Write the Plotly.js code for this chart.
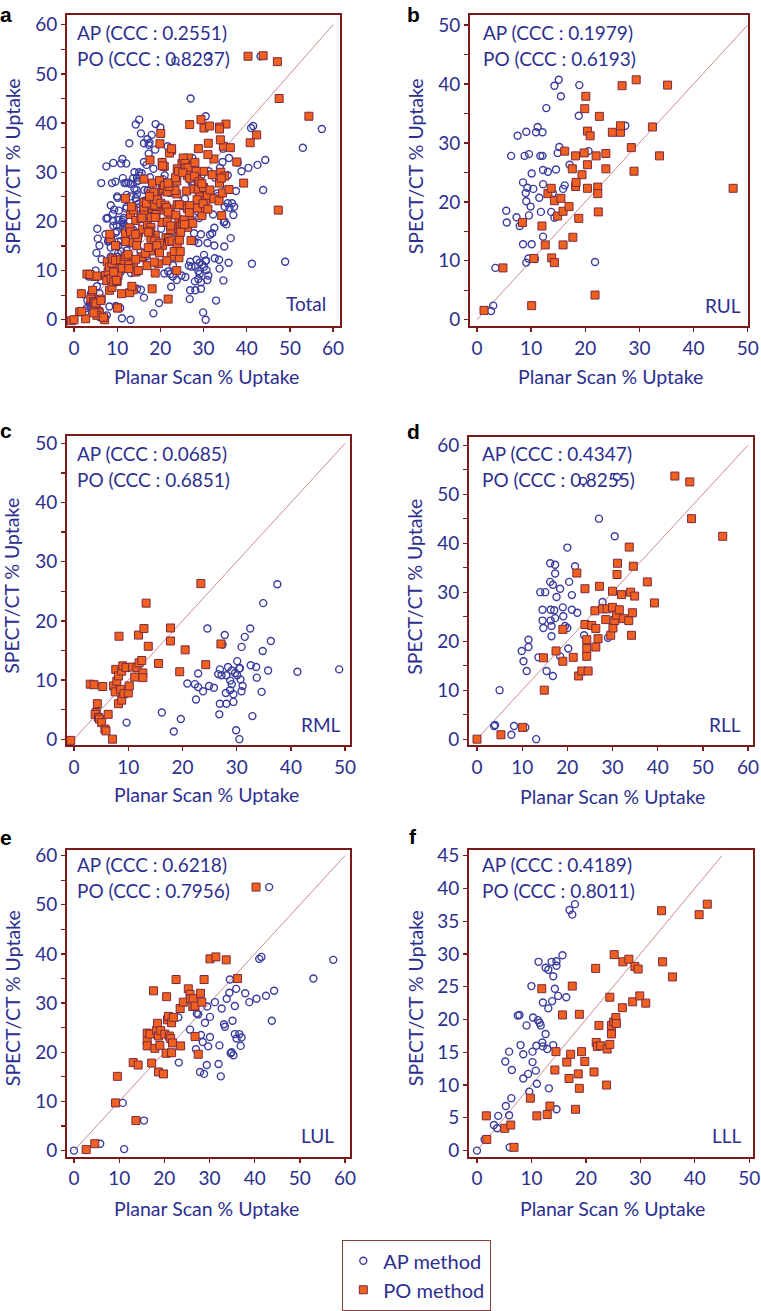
<!DOCTYPE html>
<html>
<head>
<meta charset="utf-8">
<script src="https://cdn.plot.ly/plotly-3.0.1.min.js"></script>
<style>
  html, body { margin: 0; padding: 0; background: #fff; }
  #chart { width: 761px; height: 1311px; }
</style>
</head>
<body>
<div id="chart"></div>
<script>
// RUL
const rulApX = [3.4, 3.0, 2.6, 5.4, 5.5, 7.3, 7.5, 6.3, 7.9, 8.5, 8.8, 9.1, 9.6, 9.0, 9.1, 9.3, 9.6, 9.9, 8.5, 10.1, 9.1, 9.5, 10.1, 10.4, 10.7, 10.9, 11.2, 11.5, 11.7, 12.1, 12.1, 12.2, 12.2, 11.8, 12.2, 13.1, 12.8, 13.7, 14.0, 14.3, 15.1, 15.5, 14.6, 14.9, 15.2, 14.3, 15.9, 16.2, 17.1, 18.9, 18.8, 20.6, 21.8, 27.4];
const rulApY = [8.8, 2.4, 1.5, 18.5, 16.5, 17.4, 31.2, 27.8, 15.9, 23.3, 27.8, 31.9, 28.1, 21.5, 20.1, 22.4, 17.7, 19.2, 12.8, 12.8, 9.7, 10.4, 24.8, 22.2, 10.3, 31.8, 32.7, 20.7, 27.8, 31.8, 27.8, 25.4, 23.0, 18.3, 14.1, 25.1, 35.9, 18.3, 21.5, 39.7, 40.7, 37.9, 25.5, 28.3, 29.3, 17.3, 22.2, 22.8, 26.3, 39.8, 34.6, 28.6, 9.8, 32.9];
const rulPoX = [1.3, 4.8, 8.4, 10.1, 10.5, 12.0, 12.6, 13.1, 13.7, 13.8, 14.3, 14.3, 14.9, 15.5, 15.9, 15.9, 16.2, 17.0, 17.6, 17.7, 18.2, 18.2, 18.3, 18.8, 19.4, 19.8, 19.9, 20.1, 20.4, 20.4, 20.4, 20.9, 21.8, 22.0, 22.3, 22.3, 22.4, 22.6, 23.8, 23.8, 25.0, 26.5, 26.5, 26.8, 28.5, 29.0, 29.4, 32.4, 33.7, 35.2, 47.3];
const rulPoY = [1.6, 8.8, 16.5, 2.4, 10.4, 15.9, 12.7, 21.4, 22.3, 10.5, 9.7, 20.2, 17.6, 20.6, 18.4, 12.7, 28.6, 19.2, 25.6, 14.0, 22.6, 27.8, 23.3, 17.2, 24.6, 28.3, 35.8, 37.9, 32.0, 26.3, 22.3, 31.2, 4.2, 27.8, 22.5, 21.4, 18.3, 34.5, 28.2, 25.6, 31.8, 31.8, 32.9, 39.7, 29.2, 25.2, 40.7, 32.7, 27.8, 39.8, 22.3];

// RML
const rmlApX = [9.7, 16.2, 18.4, 19.7, 20.9, 22.5, 22.3, 22.9, 22.9, 23.8, 24.6, 24.9, 25.8, 26.8, 26.9, 26.9, 27.4, 27.2, 27.8, 28.0, 28.1, 28.1, 28.4, 28.8, 28.8, 29.1, 29.1, 29.4, 29.4, 29.9, 30.1, 30.1, 30.5, 30.5, 30.7, 30.9, 30.9, 31.1, 30.6, 31.5, 32.5, 32.6, 32.9, 33.6, 33.7, 34.6, 34.8, 34.9, 35.8, 36.3, 37.5, 41.2, 48.9, 29.7, 26.6];
const rmlApY = [2.8, 4.5, 1.3, 3.4, 9.4, 6.7, 9.3, 8.8, 11.1, 8.1, 18.7, 9.0, 8.7, 4.2, 6.0, 11.8, 16.0, 10.8, 17.6, 7.8, 10.8, 6.0, 12.2, 9.9, 8.3, 9.3, 11.6, 6.3, 7.6, 1.5, 10.8, 13.2, 0.0, 12.0, 10.1, 8.1, 15.6, 9.0, 12.0, 17.3, 18.7, 12.5, 3.9, 12.2, 10.4, 8.0, 14.9, 23.0, 11.6, 16.6, 26.2, 11.4, 11.8, 11.2, 11.0];
const rmlPoX = [-0.6, 3.0, 3.7, 5.3, 4.3, 4.1, 3.9, 4.5, 4.7, 5.1, 5.7, 5.9, 6.3, 7.1, 7.3, 7.6, 7.7, 7.9, 8.2, 8.3, 8.2, 8.6, 8.8, 8.8, 9.0, 9.2, 9.6, 10.0, 10.2, 10.8, 11.2, 11.6, 11.9, 12.0, 12.5, 12.7, 12.7, 12.9, 13.3, 13.7, 15.6, 17.8, 17.8, 19.5, 20.5, 23.4, 24.3, 27.1];
const rmlPoY = [-0.2, 9.3, 9.2, 8.9, 6.0, 4.5, 4.2, 3.7, 3.4, 2.8, 1.7, 1.4, 4.2, 0.0, 9.0, 8.0, 11.8, 9.8, 10.7, 17.4, 6.0, 8.4, 6.6, 11.5, 12.4, 7.7, 12.1, 7.8, 9.0, 12.2, 10.5, 12.1, 17.6, 12.9, 13.3, 11.2, 10.4, 18.7, 23.0, 15.7, 12.8, 18.8, 16.6, 11.4, 15.1, 26.3, 12.6, 16.1];

// RLL
const rllApX = [3.8, 4.0, 5.0, 7.6, 8.2, 10.7, 13.1, 9.9, 10.3, 11.0, 11.4, 11.4, 13.6, 14.0, 14.5, 14.5, 14.7, 15.1, 15.4, 16.2, 16.2, 16.3, 16.3, 16.5, 16.5, 16.8, 16.8, 17.1, 17.3, 17.3, 17.3, 17.6, 18.4, 18.4, 19.0, 19.1, 19.5, 20.0, 20.0, 20.2, 20.4, 21.0, 21.0, 21.7, 22.2, 23.7, 27.0, 27.8, 29.0, 30.5, 23.5, 31.0];
const rllApY = [2.7, 2.9, 10.0, 0.9, 2.7, 2.4, 0.0, 18.0, 15.9, 13.9, 20.3, 18.8, 16.7, 30.0, 26.4, 24.2, 22.7, 30.0, 13.9, 35.9, 32.1, 26.4, 24.2, 23.1, 21.0, 31.5, 12.9, 26.3, 35.6, 33.8, 24.7, 29.0, 30.7, 16.9, 26.9, 25.1, 23.1, 39.1, 22.7, 18.5, 32.1, 29.4, 26.4, 35.3, 25.8, 21.2, 45.0, 28.0, 20.7, 41.4, 52.7, 53.5];
const rllPoX = [0.0, 5.3, 10.1, 14.7, 14.9, 17.5, 19.0, 19.0, 21.3, 22.1, 22.5, 23.2, 23.9, 23.9, 24.3, 24.3, 24.3, 24.6, 25.4, 26.1, 26.3, 26.3, 26.8, 27.1, 27.8, 28.5, 28.8, 29.6, 30.0, 30.0, 30.1, 30.5, 30.9, 31.1, 31.0, 31.5, 32.0, 32.4, 33.6, 33.7, 34.0, 34.2, 34.4, 34.6, 34.9, 37.7, 39.3, 43.8, 47.1, 47.5, 54.4];
const rllPoY = [0.0, 0.9, 2.4, 16.6, 10.0, 18.0, 22.4, 15.9, 16.7, 33.9, 12.9, 13.9, 30.7, 23.4, 20.3, 18.5, 16.9, 13.9, 23.2, 26.2, 22.6, 18.8, 20.5, 31.2, 26.6, 24.4, 26.6, 21.2, 30.2, 26.9, 22.7, 24.2, 25.3, 35.9, 33.6, 26.4, 29.5, 24.6, 24.2, 39.2, 30.0, 21.2, 25.8, 35.3, 29.2, 32.1, 27.8, 53.7, 52.5, 45.0, 41.4];

// LUL
const lulApX = [0.0, 5.8, 11.1, 10.8, 15.5, 23.1, 23.2, 25.7, 27.2, 27.5, 27.0, 27.9, 28.1, 28.5, 28.8, 29.0, 29.4, 29.5, 29.7, 30.1, 30.1, 31.2, 32.0, 32.2, 32.5, 32.7, 33.2, 33.4, 33.8, 34.5, 34.4, 34.7, 34.9, 35.1, 35.3, 35.6, 35.6, 35.9, 36.0, 36.6, 36.9, 37.1, 37.9, 38.8, 40.4, 41.0, 41.5, 42.5, 43.8, 44.3, 43.2, 53.0, 57.4];
const lulApY = [0.0, 1.4, 0.3, 9.7, 6.1, 27.1, 17.9, 24.6, 27.9, 27.7, 20.6, 16.0, 23.5, 22.1, 15.6, 26.0, 17.4, 29.3, 21.2, 27.2, 23.1, 30.2, 17.6, 21.4, 15.1, 28.9, 25.7, 25.2, 30.9, 34.8, 32.1, 19.8, 20.0, 26.4, 19.4, 23.7, 29.4, 32.9, 22.8, 23.7, 21.3, 23.0, 32.0, 30.2, 30.9, 39.0, 39.4, 31.5, 26.4, 32.5, 53.6, 35.0, 38.8];
const lulPoX = [2.7, 4.6, 9.2, 9.6, 13.7, 13.1, 14.2, 16.2, 16.2, 16.2, 16.8, 17.2, 17.6, 17.9, 18.3, 18.5, 18.7, 18.7, 19.0, 19.2, 19.8, 20.1, 20.4, 20.5, 20.7, 20.9, 21.1, 21.4, 21.6, 21.6, 21.8, 22.0, 22.6, 23.5, 23.6, 24.2, 25.3, 25.7, 25.8, 26.3, 26.4, 26.8, 26.8, 27.5, 28.0, 28.3, 28.8, 30.1, 31.4, 33.7, 36.2, 40.3];
const lulPoY = [0.2, 1.4, 9.7, 15.1, 6.1, 17.9, 17.4, 23.9, 22.3, 21.3, 23.7, 17.8, 32.5, 20.8, 24.5, 25.9, 16.0, 23.3, 21.4, 24.4, 15.6, 23.7, 19.8, 31.3, 26.6, 27.3, 23.3, 22.8, 26.0, 19.9, 21.9, 27.1, 34.8, 28.9, 21.3, 30.2, 32.9, 31.8, 30.9, 29.3, 30.9, 23.2, 29.4, 19.6, 32.0, 30.2, 34.8, 39.0, 39.4, 38.8, 35.0, 53.6];

// LLL
const lllApX = [0.0, 1.4, 1.7, 3.1, 3.7, 3.9, 5.3, 5.2, 5.9, 5.9, 6.0, 6.3, 6.4, 7.5, 7.8, 8.0, 8.5, 8.5, 9.1, 9.4, 9.6, 10.0, 10.2, 10.2, 10.3, 10.8, 10.9, 11.0, 11.2, 11.3, 11.5, 11.7, 12.0, 12.1, 12.1, 12.6, 12.6, 12.9, 13.1, 13.1, 13.2, 13.7, 13.8, 14.0, 14.0, 14.3, 14.6, 14.6, 14.9, 14.6, 15.7, 16.4, 17.0, 17.5, 18.0];
const lllApY = [0.0, 1.7, 5.3, 3.9, 3.4, 5.3, 6.8, 13.6, 15.1, 5.4, 0.5, 8.0, 12.3, 20.6, 20.7, 16.1, 14.7, 11.0, 19.1, 11.7, 9.0, 25.1, 13.5, 15.1, 20.3, 12.2, 16.0, 10.2, 19.9, 28.8, 19.5, 19.1, 16.5, 22.6, 15.9, 17.8, 27.9, 15.5, 27.6, 21.7, 9.5, 28.8, 22.8, 26.6, 16.1, 24.7, 6.3, 28.2, 23.6, 28.9, 29.8, 23.4, 36.7, 36.0, 37.6];
const lllPoX = [1.8, 1.7, 5.1, 6.2, 6.8, 9.8, 11.0, 11.9, 12.9, 13.4, 14.3, 14.5, 15.7, 16.5, 16.9, 17.2, 17.5, 18.1, 18.6, 18.8, 18.8, 19.2, 19.8, 21.5, 21.8, 21.9, 22.1, 22.4, 22.7, 23.8, 23.9, 24.4, 24.4, 24.7, 24.7, 25.1, 25.2, 25.5, 25.6, 26.7, 26.8, 27.9, 28.6, 29.0, 29.6, 29.9, 31.0, 33.9, 34.1, 35.9, 40.8, 42.3];
const lllPoY = [1.7, 5.3, 3.4, 3.9, 0.5, 8.0, 5.3, 24.7, 5.5, 6.8, 12.3, 15.1, 20.7, 13.5, 11.0, 14.7, 25.1, 6.3, 11.7, 20.8, 9.5, 15.1, 13.6, 12.0, 27.8, 16.5, 15.9, 19.1, 16.0, 10.0, 15.5, 16.2, 23.4, 19.1, 17.8, 19.6, 29.9, 20.3, 19.4, 21.8, 28.8, 29.2, 22.7, 28.1, 27.7, 23.6, 22.5, 36.6, 28.8, 26.5, 36.0, 37.6];

const panelLetters = ['a', 'b', 'c', 'd', 'e', 'f'];
const regionNames = ['Total', 'RUL', 'RML', 'RLL', 'LUL', 'LLL'];
const apCcc = ['0.2551', '0.1979', '0.0685', '0.4347', '0.6218', '0.4189'];
const poCcc = ['0.8237', '0.6193', '0.6851', '0.8255', '0.7956', '0.8011'];
const axisMax = [60, 50, 50, 60, 60, 45];
const yTickStep = [10, 10, 10, 10, 10, 5];

// Total is the union of the five lobes
const totalApX = [].concat(rulApX, rmlApX, rllApX, lulApX, lllApX);
const totalApY = [].concat(rulApY, rmlApY, rllApY, lulApY, lllApY);
const totalPoX = [].concat(rulPoX, rmlPoX, rllPoX, lulPoX, lllPoX);
const totalPoY = [].concat(rulPoY, rmlPoY, rllPoY, lulPoY, lllPoY);

const apSets = [[totalApX, totalApY], [rulApX, rulApY], [rmlApX, rmlApY], [rllApX, rllApY], [lulApX, lulApY], [lllApX, lllApY]];
const poSets = [[totalPoX, totalPoY], [rulPoX, rulPoY], [rmlPoX, rmlPoY], [rllPoX, rllPoY], [lulPoX, lulPoY], [lllPoX, lllPoY]];

const W = 761, H = 1311;
const NAVY = '#2d2f8f';
const FRAME = '#7b1a1a';
const FONT = 'Lato, "Open Sans", sans-serif';

// pixel frames of each panel: [left, right, top, bottom]
const frames = [
    [67, 340, 15, 327],
    [470, 748, 15, 327],
    [67, 350, 438, 748],
    [469, 753, 439, 748],
    [67, 350, 853, 1161],
    [469, 753, 853, 1161]
];
const xRanges = [[-1.62, 61.6], [-1.29, 50.05], [-1.29, 50.9], [-1.77, 61.1], [-1.55, 61.1], [-1.47, 50.7]];
const yRanges = [[-1.22, 62.0], [-1.01, 51.7], [-1.01, 51.2], [-1.22, 61.6], [-1.22, 61.2], [-0.91, 45.9]];

const px = x => x / W;
const py = y => 1 - y / H;

const traces = [];
const layout = {
    width: W,
    height: H,
    margin: { l: 0, r: 0, t: 0, b: 0 },
    paper_bgcolor: '#fff',
    plot_bgcolor: '#fff',
    font: { family: FONT, color: NAVY },
    showlegend: true,
    legend: {
        x: px(342), y: py(1245), xanchor: 'left', yanchor: 'top',
        bordercolor: '#8a4040', borderwidth: 1.3, bgcolor: '#fff',
        font: { family: FONT, size: 20, color: NAVY },
        tracegroupgap: 0, itemwidth: 30
    },
    annotations: []
};

for (let i = 0; i < 6; i++) {
    const s = i === 0 ? '' : String(i + 1);
    const xa = 'x' + s, ya = 'y' + s;
    const f = frames[i];
    const m = axisMax[i];

    traces.push({
        x: [0, m], y: [0, m], xaxis: xa, yaxis: ya,
        mode: 'lines', line: { color: '#c98c8c', width: 1 },
        hoverinfo: 'skip', showlegend: false
    });
    traces.push({
        x: apSets[i][0], y: apSets[i][1], xaxis: xa, yaxis: ya,
        mode: 'markers', type: 'scatter', name: 'AP method',
        marker: { symbol: 'circle-open', size: 7, color: '#3a3c9e', line: { width: 1.4 } },
        showlegend: i === 0, legendgroup: 'ap'
    });
    traces.push({
        x: poSets[i][0], y: poSets[i][1], xaxis: xa, yaxis: ya,
        mode: 'markers', type: 'scatter', name: 'PO method',
        marker: { symbol: 'square', size: 8, color: '#f0601e', line: { color: '#7a2a40', width: 1 } },
        showlegend: i === 0, legendgroup: 'po'
    });

    const common = {
        showline: true, mirror: true, linecolor: FRAME, linewidth: 2,
        ticks: 'outside', ticklen: 4, tickwidth: 1.3, tickcolor: FRAME,
        showgrid: false, zeroline: false,
        tickfont: { family: FONT, size: 19, color: NAVY },
        fixedrange: true
    };
    layout['xaxis' + s] = Object.assign({}, common, {
        domain: [px(f[0]), px(f[1])], range: xRanges[i], anchor: ya,
        tickmode: 'linear', tick0: 0, dtick: 10
    });
    layout['yaxis' + s] = Object.assign({}, common, {
        domain: [py(f[3]), py(f[2])], range: yRanges[i], anchor: xa,
        tickmode: 'linear', tick0: 0, dtick: yTickStep[i],
        minor: yTickStep[i] === 10 ? { dtick: 5, ticks: 'outside', ticklen: 4, tickcolor: FRAME, tickwidth: 1.3 } : undefined
    });

    const ann = layout.annotations;
    // panel letter
    ann.push({ text: '<b>' + panelLetters[i] + '</b>', xref: 'paper', yref: 'paper',
        x: px(i % 2 === 0 ? 6 : 413), y: py([1, 1, 419, 420, 827, 826][i]),
        xanchor: 'center', yanchor: 'top', showarrow: false,
        font: { family: '"Liberation Sans", Arial, sans-serif', size: 21, color: '#000' } });
    // CCC texts
    const tx = i % 2 === 0 ? f[0] + 8 : f[0] + 11;
    const t1 = [33, 33, 455, 455, 868, 868][i];
    ann.push({ text: 'AP (CCC : ' + apCcc[i] + ')', xref: 'paper', yref: 'paper',
        x: px(tx), y: py(t1), xanchor: 'left', yanchor: 'middle', showarrow: false,
        font: { family: FONT, size: 19, color: NAVY } });
    ann.push({ text: 'PO (CCC : ' + poCcc[i] + ')', xref: 'paper', yref: 'paper',
        x: px(tx), y: py(t1 + 26), xanchor: 'left', yanchor: 'middle', showarrow: false,
        font: { family: FONT, size: 19, color: NAVY } });
    // region label
    ann.push({ text: regionNames[i], xref: 'paper', yref: 'paper',
        x: px([328, 743, 343, 743, 336, 744][i]), y: py([305, 307, 727, 727, 1140, 1140][i]),
        xanchor: 'right', yanchor: 'middle', showarrow: false,
        font: { family: FONT, size: 19, color: NAVY } });
    // axis titles
    ann.push({ text: 'Planar Scan % Uptake', xref: 'paper', yref: 'paper',
        x: px([206, 610, 206, 612, 206, 612][i]), y: py([378, 378, 798, 800, 1213, 1213][i]),
        xanchor: 'center', yanchor: 'middle', showarrow: false,
        font: { family: FONT, size: 19.5, color: NAVY } });
    ann.push({ text: 'SPECT/CT % Uptake', xref: 'paper', yref: 'paper', textangle: -90,
        x: px(i % 2 === 0 ? 12 : 415), y: py([167, 167, 588, 589, 1002, 1002][i]),
        xanchor: 'center', yanchor: 'middle', showarrow: false,
        font: { family: FONT, size: 19.5, color: NAVY } });
}

Plotly.newPlot('chart', traces, layout, { staticPlot: true });
</script>
</body>
</html>
